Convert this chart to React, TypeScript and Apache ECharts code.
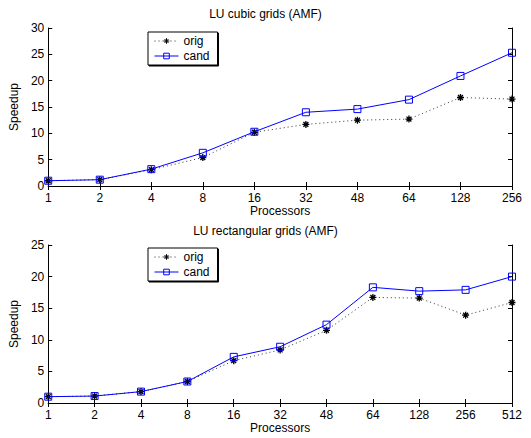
import React, { useEffect, useRef } from "react";
import * as echarts from "echarts";

const cubicProcs = ["1", "2", "4", "8", "16", "32", "48", "64", "128", "256"];
const cubicOrig = [1.0, 1.2, 3.1, 5.4, 10.2, 11.7, 12.5, 12.7, 16.8, 16.5];
const cubicCand = [1.0, 1.2, 3.2, 6.3, 10.3, 14.0, 14.6, 16.4, 20.9, 25.3];

const rectProcs = ["1", "2", "4", "8", "16", "32", "48", "64", "128", "256", "512"];
const rectOrig = [1.0, 1.1, 1.8, 3.4, 6.7, 8.4, 11.5, 16.7, 16.6, 13.9, 15.9];
const rectCand = [1.0, 1.1, 1.8, 3.4, 7.3, 8.9, 12.4, 18.3, 17.7, 17.9, 20.0];

const titles = ["LU cubic grids (AMF)", "LU rectangular grids (AMF)"];
const seriesNames = ["orig", "cand"];

const FONT = "'Liberation Sans', Arial, Helvetica, sans-serif";
const ASTERISK = "path://M0,5L10,5M5,0L5,10M1.5,1.5L8.5,8.5M8.5,1.5L1.5,8.5";

export default function App() {
  const ref = useRef<HTMLDivElement>(null);
  useEffect(() => {
    if (!ref.current) return;
    const chart = echarts.init(ref.current, null, { renderer: "svg" });
    const grids = [
      { left: 42, right: 19, top: 28, height: 158 },
      { left: 42, right: 19, top: 245, height: 158 },
    ];
    const cats = [cubicProcs, rectProcs];
    const maxes = [30, 25];
    const xAxes: any[] = [];
    const yAxes: any[] = [];
    grids.forEach((_, i) => {
      xAxes.push({
        type: "category",
        gridIndex: i,
        data: cats[i],
        boundaryGap: false,
        position: "bottom",
        name: "Processors",
        nameLocation: "middle",
        nameGap: 18,
        nameTextStyle: { color: "#000", fontSize: 12, fontFamily: FONT },
        axisLine: { lineStyle: { color: "#000", width: 1 } },
        axisTick: { inside: true, length: 4, lineStyle: { color: "#000" } },
        axisLabel: { color: "#000", fontSize: 12, fontFamily: FONT, margin: 6 },
        splitLine: { show: false },
      });
      xAxes.push({
        type: "category",
        gridIndex: i,
        data: cats[i],
        boundaryGap: false,
        position: "top",
        axisLine: { lineStyle: { color: "#000", width: 1 } },
        axisTick: { inside: true, length: 4, lineStyle: { color: "#000" } },
        axisLabel: { show: false },
        splitLine: { show: false },
      });
      yAxes.push({
        type: "value",
        gridIndex: i,
        min: 0,
        max: maxes[i],
        interval: 5,
        position: "left",
        name: "Speedup",
        nameLocation: "middle",
        nameGap: 20,
        nameTextStyle: { color: "#000", fontSize: 12, fontFamily: FONT },
        axisLine: { show: true, lineStyle: { color: "#000", width: 1 } },
        axisTick: { show: true, inside: true, length: 4, lineStyle: { color: "#000" } },
        axisLabel: { color: "#000", fontSize: 12, fontFamily: FONT, margin: 4 },
        splitLine: { show: false },
      });
      yAxes.push({
        type: "value",
        gridIndex: i,
        min: 0,
        max: maxes[i],
        interval: 5,
        position: "right",
        axisLine: { show: true, lineStyle: { color: "#000", width: 1 } },
        axisTick: { show: true, inside: true, length: 4, lineStyle: { color: "#000" } },
        axisLabel: { show: false },
        splitLine: { show: false },
      });
    });
    const origData = [cubicOrig, rectOrig];
    const candData = [cubicCand, rectCand];
    const series: any[] = [];
    [0, 1].forEach((i) => {
      series.push({
        name: seriesNames[0],
        type: "line",
        xAxisIndex: i * 2,
        yAxisIndex: i * 2,
        data: origData[i],
        symbol: ASTERISK,
        symbolSize: 7,
        lineStyle: { color: "#333", width: 1, type: [1, 3] },
        itemStyle: { color: "#000", borderColor: "#000", borderWidth: 1.3 },
        z: 2,
      });
      series.push({
        name: seriesNames[1],
        type: "line",
        xAxisIndex: i * 2,
        yAxisIndex: i * 2,
        data: candData[i],
        symbol: "rect",
        symbolSize: 7,
        lineStyle: { color: "#0000ff", width: 1 },
        itemStyle: { color: "rgba(255,255,255,0)", borderColor: "#0000ff", borderWidth: 1 },
        z: 3,
      });
    });
    const legendBase = {
      orient: "vertical",
      left: 148,
      data: seriesNames,
      itemWidth: 24,
      itemHeight: 7,
      itemGap: 3,
      padding: [3, 8, 3, 6],
      borderColor: "#000",
      borderWidth: 1,
      backgroundColor: "#fff",
      shadowColor: "#000",
      shadowOffsetX: 1,
      shadowOffsetY: 1,
      shadowBlur: 0,
      itemStyle: { borderWidth: 1 },
      lineStyle: { width: 1 },
      textStyle: { color: "#000", fontSize: 12, fontFamily: FONT },
      selectedMode: false,
    };
    chart.setOption({
      animation: false,
      backgroundColor: "#fff",
      title: [
        { text: titles[0], left: "center", top: 8, textStyle: { fontSize: 12, fontWeight: "normal", color: "#000", fontFamily: FONT }, padding: 0 },
        { text: titles[1], left: "center", top: 225, textStyle: { fontSize: 12, fontWeight: "normal", color: "#000", fontFamily: FONT }, padding: 0 },
      ],
      legend: [
        { ...legendBase, top: 32 },
        { ...legendBase, top: 248 },
      ],
      grid: grids,
      xAxis: xAxes,
      yAxis: yAxes,
      series,
    });
    return () => chart.dispose();
  }, []);
  return (
    <div
      ref={ref}
      style={{ position: "fixed", left: 0, top: 0, width: 531, height: 438, background: "#fff" }}
    />
  );
}
